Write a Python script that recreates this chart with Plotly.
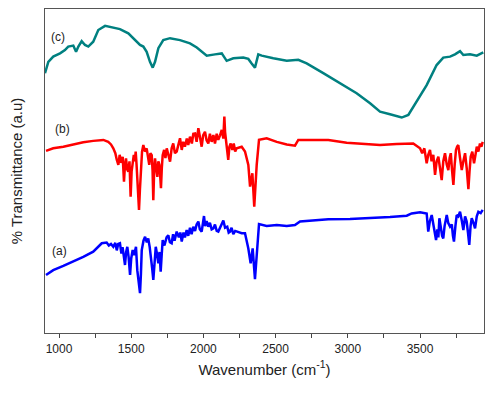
import plotly.graph_objects as go

# (c) teal spectrum
wn_c = [903, 926, 960, 1007, 1041, 1064, 1099, 1118, 1134, 1157, 1180, 1203, 1237, 1272,
        1319, 1353, 1422, 1480, 1526, 1561, 1584, 1607, 1630, 1649, 1665, 1688, 1722, 1769,
        1838, 1907, 1954, 2023, 2080, 2127, 2161, 2207, 2276, 2311, 2334, 2357, 2380, 2404,
        2484, 2577, 2657, 2715, 2830, 2946, 3061, 3154, 3223, 3292, 3373, 3419, 3477, 3546,
        3615, 3661, 3708, 3742, 3777, 3800, 3846, 3893, 3938]
t_c = [80.2, 83.7, 85.3, 86.3, 87.3, 88.4, 88.7, 86.8, 88.4, 90.1, 88.9, 88.4, 89.9, 93.5,
       94.8, 94.5, 93.8, 92.5, 90.4, 88.9, 88.4, 86.8, 83.7, 81.9, 83.7, 87.9, 90.4, 91.0,
       90.4, 89.4, 88.1, 85.6, 86.0, 86.3, 84.0, 84.8, 85.0, 84.6, 83.2, 81.9, 86.0, 85.6,
       84.8, 84.0, 84.3, 83.2, 80.2, 77.1, 74.0, 70.9, 68.3, 67.5, 66.5, 67.3, 71.4, 76.5,
       82.7, 85.0, 85.3, 86.0, 87.0, 85.8, 86.0, 85.6, 86.6]

# (b) red spectrum
wn_b = [910, 960, 1030, 1099, 1168, 1237, 1307, 1341, 1360, 1376, 1390, 1400, 1411, 1420,
        1430, 1441, 1450, 1457, 1464, 1472, 1480, 1488, 1496, 1503, 1510, 1518, 1525, 1531,
        1537, 1542, 1548, 1554, 1560, 1566, 1575, 1584, 1595, 1607, 1615, 1625, 1633, 1642,
        1648, 1653, 1659, 1665, 1672, 1681, 1688, 1695, 1700, 1706, 1712, 1718, 1728, 1737,
        1746, 1757, 1769, 1780, 1791, 1803, 1815, 1826, 1838, 1850, 1860, 1872, 1885, 1895,
        1907, 1920, 1930, 1942, 1953, 1965, 1975, 1988, 1998, 2011, 2022, 2034, 2045, 2057,
        2069, 2080, 2092, 2103, 2115, 2127, 2138, 2145, 2150, 2156, 2165, 2172, 2180, 2189,
        2200, 2210, 2220, 2230, 2265, 2288, 2311, 2323, 2339, 2352, 2369, 2385, 2438, 2508,
        2577, 2634, 2657, 2761, 2865, 2992, 3107, 3223, 3338, 3453, 3500, 3515, 3530, 3546,
        3557, 3569, 3580, 3592, 3604, 3615, 3627, 3638, 3650, 3661, 3673, 3685, 3696, 3705,
        3713, 3722, 3731, 3740, 3749, 3757, 3765, 3777, 3789, 3800, 3812, 3823, 3835, 3843,
        3851, 3862, 3874, 3884, 3893, 3904, 3915, 3925, 3934]
t_b = [56.2, 57.0, 57.5, 58.2, 58.9, 59.3, 59.6, 59.0, 58.2, 57.0, 55.5, 53.5, 51.9, 55.0,
       52.5, 54.4, 46.7, 52.0, 53.9, 50.5, 49.8, 53.0, 42.1, 50.0, 51.9, 55.0, 53.0, 56.0,
       52.0, 48.8, 45.0, 38.0, 44.0, 49.8, 56.0, 58.0, 56.0, 57.0, 54.0, 51.9, 55.5, 54.9,
       50.0, 41.0, 50.5, 53.9, 51.0, 48.2, 53.0, 51.9, 49.0, 44.7, 51.0, 54.9, 56.5, 54.0,
       57.0, 55.0, 52.9, 57.0, 58.5, 55.5, 56.0, 58.0, 60.1, 56.5, 59.0, 57.5, 60.0, 58.0,
       60.6, 58.5, 61.5, 61.6, 59.0, 63.2, 60.0, 57.5, 61.0, 62.1, 59.5, 58.5, 61.5, 59.0,
       61.1, 58.5, 61.5, 59.6, 61.0, 62.7, 60.0, 66.8, 62.0, 59.6, 56.0, 53.4, 57.5, 58.5,
       56.5, 58.5, 56.0, 57.0, 57.5, 56.0, 51.9, 45.2, 49.3, 39.0, 51.9, 59.6, 60.1, 59.0,
       58.2, 57.8, 59.6, 59.6, 59.6, 58.7, 58.3, 58.0, 58.3, 58.5, 57.0, 55.5, 57.0, 52.4,
       55.0, 56.5, 53.0, 55.0, 48.8, 53.0, 54.4, 50.0, 47.2, 53.0, 55.5, 52.0, 50.3, 54.0,
       55.5, 50.0, 45.7, 52.0, 56.5, 57.5, 58.0, 54.0, 50.3, 53.0, 55.5, 51.0, 44.4, 50.0,
       54.4, 56.0, 52.4, 55.0, 57.5, 56.0, 58.5, 57.5, 59.0]

# (a) blue spectrum
wn_a = [910, 960, 1030, 1099, 1168, 1237, 1296, 1330, 1345, 1360, 1376, 1390, 1400, 1410,
        1422, 1432, 1440, 1448, 1457, 1465, 1473, 1482, 1492, 1500, 1510, 1520, 1527, 1533,
        1542, 1550, 1556, 1561, 1567, 1573, 1585, 1596, 1608, 1618, 1628, 1637, 1645, 1653,
        1660, 1670, 1680, 1688, 1696, 1704, 1711, 1718, 1730, 1745, 1757, 1768, 1780, 1790,
        1800, 1815, 1830, 1840, 1850, 1862, 1872, 1884, 1895, 1907, 1918, 1930, 1942, 1953,
        1965, 1975, 1988, 1996, 2004, 2012, 2022, 2034, 2045, 2057, 2069, 2080, 2092, 2103,
        2115, 2127, 2138, 2150, 2165, 2175, 2184, 2195, 2207, 2220, 2230, 2265, 2288, 2311,
        2327, 2341, 2357, 2373, 2385, 2438, 2508, 2577, 2634, 2669, 2761, 2865, 3015, 3154,
        3292, 3408, 3442, 3500, 3522, 3546, 3557, 3568, 3581, 3592, 3603, 3611, 3620, 3627,
        3634, 3645, 3653, 3661, 3670, 3685, 3695, 3708, 3720, 3728, 3735, 3745, 3754, 3765,
        3777, 3790, 3800, 3812, 3823, 3832, 3841, 3850, 3858, 3870, 3881, 3893, 3904, 3920,
        3934]
t_a = [17.9, 19.4, 20.7, 22.0, 23.5, 25.1, 27.7, 27.9, 27.0, 27.5, 26.6, 27.8, 25.5, 27.5,
       27.7, 24.5, 26.5, 24.0, 21.0, 25.0, 26.6, 23.5, 17.9, 23.0, 25.6, 24.0, 26.0, 26.6,
       19.4, 16.0, 13.5, 12.3, 18.0, 25.6, 28.5, 29.7, 28.0, 29.2, 26.5, 23.5, 20.0, 16.4,
       22.0, 26.6, 24.0, 21.5, 25.0, 18.9, 24.0, 28.7, 27.0, 29.5, 30.2, 28.0, 27.7, 30.5,
       28.5, 31.3, 29.5, 31.0, 28.2, 31.0, 29.5, 31.8, 30.0, 32.5, 30.5, 32.8, 31.5, 33.5,
       34.4, 32.0, 31.3, 34.0, 36.1, 33.0, 34.5, 32.8, 34.0, 32.0, 32.3, 33.5, 31.5, 31.3,
       32.5, 33.5, 34.7, 32.5, 32.8, 31.0, 31.3, 32.5, 30.5, 31.5, 31.3, 30.8, 30.8, 26.1,
       21.5, 26.1, 16.6, 27.7, 33.6, 33.0, 33.3, 33.0, 33.3, 34.4, 34.7, 35.1, 35.2, 35.4,
       35.8, 36.2, 36.9, 37.3, 37.0, 36.9, 31.3, 34.5, 36.4, 33.0, 30.5, 28.7, 32.0, 29.5,
       35.4, 32.0, 30.0, 29.2, 33.0, 36.4, 34.0, 32.8, 33.5, 30.0, 28.2, 33.0, 36.4, 36.0,
       37.4, 34.5, 31.8, 36.0, 34.4, 31.0, 27.2, 33.0, 35.4, 34.0, 32.3, 36.0, 37.4, 37.0,
       38.0]

series = [
    ("(c)", wn_c, t_c, "#008080", 993, 91.4),
    ("(b)", wn_b, t_b, "#ff0000", 1021, 63.0),
    ("(a)", wn_a, t_a, "#0000ff", 1000, 25.3),
]

text_font = dict(family = "Liberation Sans", size = 12, color = "#222222")

fig = go.Figure()
for name, x, y, color, lx, ly in series:
    fig.add_trace(go.Scatter(
        x = x, y = y, mode = "lines", name = name,
        line = dict(color = color, width = 2.5),
        showlegend = False,
    ))
    fig.add_annotation(x = lx, y = ly, text = name, showarrow = False, font = text_font)

# the page body adds an 8px offset, so the margins are shifted to compensate
fig.update_xaxes(
    range = [903, 3943], dtick = 500, tick0 = 1000,
    ticks = "outside", ticklen = 4, tickcolor = "#444444",
    minor = dict(dtick = 250, tick0 = 1000, ticks = "outside", ticklen = 4, tickcolor = "#444444"),
    showline = True, linecolor = "#555555", linewidth = 1.2, mirror = True,
    showgrid = False, zeroline = False, automargin = False,
    tickfont = text_font,
    title = dict(text = "Wavenumber (cm<sup>-1</sup>)", standoff = 9,
                 font = dict(family = "Liberation Sans", size = 15, color = "#222222")),
)
fig.update_yaxes(
    range = [0, 100], showticklabels = False, ticks = "",
    showline = True, linecolor = "#555555", linewidth = 1.2, mirror = True,
    showgrid = False, zeroline = False, automargin = False,
    title = dict(text = "% Transmittance (a.u)", standoff = 20,
                 font = dict(family = "Liberation Sans", size = 15, color = "#222222")),
)
fig.update_layout(
    width = 504, height = 393,
    margin = dict(l = 37, r = 28, t = 1, b = 68),
    paper_bgcolor = "white", plot_bgcolor = "white",
)
fig.write_html("out.html")
